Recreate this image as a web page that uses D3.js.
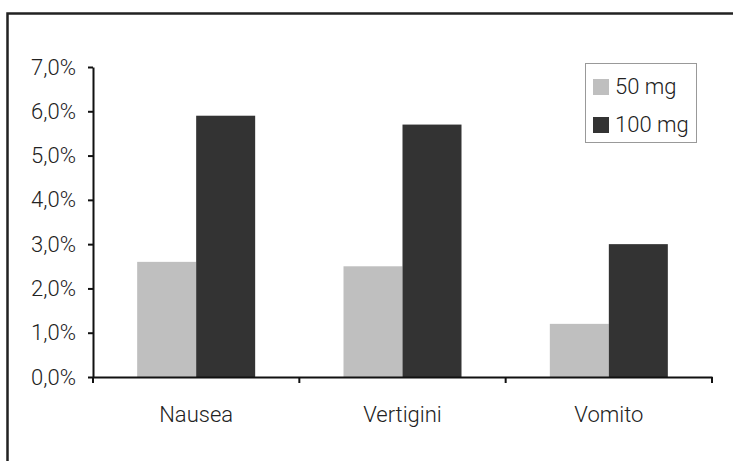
<!DOCTYPE html>
<html><head><meta charset="utf-8">
<script src="https://cdn.jsdelivr.net/npm/d3@7"></script>
<style>body{margin:0;background:#fff}svg{display:block}text{font-family:Roboto,"Liberation Sans",Arial,sans-serif;font-weight:300;fill:#222}</style>
</head><body>
<script>
const categories = ["Nausea", "Vertigini", "Vomito"];
const seriesNames = ["50 mg", "100 mg"];
const values50 = [2.6, 2.5, 1.2];
const values100 = [5.9, 5.7, 3.0];
const yTicks = [0, 1, 2, 3, 4, 5, 6, 7];
const colors = ["#bfbfbf", "#333333"];
const FONT = "Roboto, Liberation Sans, Arial, sans-serif";

const W = 733, H = 461;
const svg = d3.select("body").append("svg").attr("width", W).attr("height", H);

svg.append("rect").attr("x", 7.5).attr("y", 13.5).attr("width", 900).attr("height", 600)
  .attr("fill", "none").attr("stroke", "#222").attr("stroke-width", 2.5);

const x0 = d3.scaleBand().domain(categories).range([93, 712]).paddingInner(0).paddingOuter(0);
const y = d3.scaleLinear().domain([0, 7]).range([377, 67]);
const barW = 59;
const x1 = d3.scaleBand().domain(seriesNames).range([x0.bandwidth()/2 - barW, x0.bandwidth()/2 + barW]);

const data = categories.map((c, i) => ({cat: c, vals: [values50[i], values100[i]]}));
const g = svg.append("g");
data.forEach(d => {
  d.vals.forEach((v, j) => {
    g.append("rect")
      .attr("x", x0(d.cat) + x1(seriesNames[j]))
      .attr("y", y(v))
      .attr("width", x1.bandwidth())
      .attr("height", y(0) - y(v))
      .attr("fill", colors[j]);
  });
});

// Y axis
const yAxis = svg.append("g").attr("transform", "translate(93,0)")
  .call(d3.axisLeft(y).tickValues(yTicks).tickSize(5).tickSizeOuter(0).tickPadding(12)
    .tickFormat(d => d.toFixed(1).replace(".", ",") + "%"));
yAxis.select(".domain").attr("stroke", "#111").attr("stroke-width", 2);
yAxis.selectAll(".tick line").attr("stroke", "#111").attr("stroke-width", 2);
yAxis.selectAll("text").attr("font-size", 22).attr("fill", "#222").attr("font-family", FONT).attr("font-weight", 300);

// X axis
const xAxis = svg.append("g").attr("transform", "translate(0,377)")
  .call(d3.axisBottom(x0).tickSize(0).tickPadding(29));
xAxis.select(".domain").attr("stroke", "#111").attr("stroke-width", 2);
xAxis.selectAll("text").attr("font-size", 22).attr("fill", "#222").attr("font-family", FONT).attr("font-weight", 300);
const bounds = [x0(categories[0])].concat(categories.map(c => x0(c) + x0.bandwidth()));
xAxis.selectAll(".bt").data(bounds).enter().append("line")
  .attr("x1", d => d).attr("x2", d => d).attr("y1", 0).attr("y2", 6)
  .attr("stroke", "#111").attr("stroke-width", 2);

// Legend
const lg = svg.append("g");
lg.append("rect").attr("x", 585.5).attr("y", 63.5).attr("width", 111).attr("height", 79)
  .attr("fill", "#fff").attr("stroke", "#999").attr("stroke-width", 1);
seriesNames.forEach((s, i) => {
  const yy = 79 + i * 38;
  lg.append("rect").attr("x", 593).attr("y", yy).attr("width", 16).attr("height", 16).attr("fill", colors[i]);
  lg.append("text").attr("x", 615).attr("y", yy + 15).attr("font-size", 22).attr("font-family", FONT).attr("font-weight", 300).text(s);
});
</script>
</body></html>
